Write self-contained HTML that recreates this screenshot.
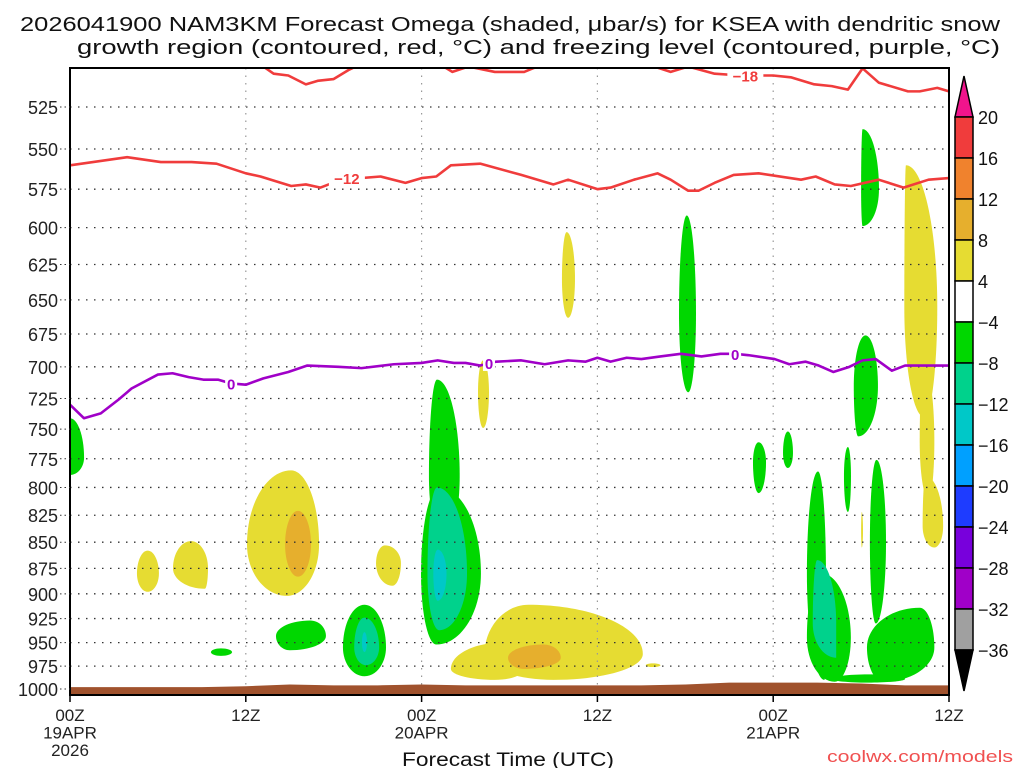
<!DOCTYPE html>
<html><head><meta charset="utf-8"><style>
html,body{margin:0;padding:0;background:#fff;}
svg{display:block;font-family:"Liberation Sans",sans-serif;}
</style></head><body>
<svg id="chart" width="1024" height="768" viewBox="0 0 1024 768" xmlns="http://www.w3.org/2000/svg">
<g font-size="20" fill="#111">
<text x="20" y="31" textLength="980" lengthAdjust="spacingAndGlyphs">2026041900 NAM3KM Forecast Omega (shaded, μbar/s) for KSEA with dendritic snow</text>
<text x="77" y="54" textLength="923" lengthAdjust="spacingAndGlyphs">growth region (contoured, red, °C) and freezing level (contoured, purple, °C)</text>
</g>
<defs><clipPath id="plotclip"><rect x="70" y="68" width="879" height="627"/></clipPath></defs>
<g id="shading" clip-path="url(#plotclip)"></g>
<g id="grid"></g>
<g id="terrain" clip-path="url(#plotclip)"></g>
<g id="contours" clip-path="url(#plotclip)"></g>
<g id="labels"></g>
<rect x="70" y="68" width="879" height="627" fill="none" stroke="#000" stroke-width="2"/>
<g id="yaxis" font-size="18" fill="#222"></g>
<g id="xaxis" font-size="17" fill="#222"></g>
<text x="508" y="766" font-size="19" text-anchor="middle" fill="#111" textLength="212" lengthAdjust="spacingAndGlyphs">Forecast Time (UTC)</text>
<text x="1013" y="762" font-size="17" text-anchor="end" fill="#f05050" textLength="186" lengthAdjust="spacingAndGlyphs">coolwx.com/models</text>
<g id="cbar" font-size="18" fill="#111"></g>
</svg>
<script>
// ---- data ----
const pressureTicks = [525,550,575,600,625,650,675,700,725,750,775,800,825,850,875,900,925,950,975,1000];
const timeTickHours = [0,12,24,36,48,60];
const timeTickLabels = [["00Z","19APR","2026"],["12Z"],["00Z","20APR"],["12Z"],["00Z","21APR"],["12Z"]];
const cbarLevels = [20,16,12,8,4,-4,-8,-12,-16,-20,-24,-28,-32,-36];
const cbarColors = ["#f03c3c","#f0822d","#e6af2d","#e6dc32","#ffffff","#00d700","#00d28c","#00c8c8","#00a0ff","#1e3cff","#7800dc","#a000c8","#a0a0a0"];
const levelColor = {y4:"#e6dc32", o8:"#e6af2d", g4:"#00d700", t8:"#00d28c", c12:"#00c8c8"};
// blobs: [level, hLeft, hRight, hTop, pTop, hBot, pBot, pMid]
const blobs = [
 ["g4",-0.3,0.96,0,741,0,789,774],
 ["y4",4.57,6.07,5.3,858,5.3,898,880],
 ["y4",7.03,9.42,8.26,849,9.2,895,875],
 ["y4",12.08,17,15.09,785,14.8,902,852],
 ["o8",14.68,16.45,15.56,821,15.56,883,852],
 ["y4",20.89,22.59,21.5,853,22,892,870],
 ["g4",9.62,11.06,10.3,956,10.3,964,960],
 ["g4",14.06,17.47,16.4,927,15,958,943],
 ["g4",18.63,21.57,20.1,911,20.1,986,955],
 ["t8",19.4,21.1,20.1,924,20.2,974,955],
 ["c12",19.93,20.27,20.1,939,20.1,960,950],
 ["g4",24.5,26.6,25.05,710,25.5,850,790],
 ["g4",23.96,28.05,25.2,800,25,952,880],
 ["t8",24.4,27.1,25.05,800,25.2,937,880],
 ["c12",24.8,25.7,25.1,857,25.1,907,880],
 ["y4",27.85,28.6,28.2,695,28.2,749,720],
 ["y4",26,31,29.5,950,29,990,978],
 ["y4",28.3,39.1,31.3,911,33,990,962],
 ["o8",29.9,33.5,32.3,952,31,978,966],
 ["y4",39.3,40.3,39.8,972,39.8,976,974],
 ["y4",33.58,34.47,33.9,603,34,663,635],
 ["g4",41.57,42.73,42.1,592,42.2,720,660],
 ["g4",54,55.22,54.1,538,54.1,599,575],
 ["g4",53.5,55.15,54.3,676,53.8,756,715],
 ["y4",56.95,59.2,57.06,560,58.3,740,655],
 ["y4",58.0,59.0,58.3,700,58.6,810,760],
 ["y4",58.2,59.6,58.4,790,59,855,835],
 ["g4",46.62,47.51,47,761,47,805,778],
 ["g4",48.67,49.35,49,752,49,783,770],
 ["g4",50.3,51.6,51.06,786,51.5,990,880],
 ["g4",50.3,53.3,51.3,880,52.2,992,945],
 ["t8",50.7,52.3,51.0,867,52.3,966,930],
 ["g4",54.6,55.7,55.05,776,55,930,850],
 ["g4",54.4,59.0,58,914,55.5,992,955],
 ["g4",52,57,54.5,984,54.5,993,989],
 ["g4",52.83,53.31,53.1,765,53.1,822,790],
 ["y4",54,54.13,54.05,822,54.05,855,840]
];
// red -12 contour
const t12Hours = [0,3.9,6.2,8.3,10,12,13,15.1,16.1,17.1,18.5,21.2,22.9,24,25,26,28,30.8,33,34,36,36.9,38.5,40.1,41,42.2,42.9,44,45.3,47,49.9,50.9,52.2,53.3,55.2,56.9,58.6,60];
const t12Pres = [560,555,558,558,559,565,567,573,572,574,569,567,571,568,567,560,559,566,572,569,575,574,569,565,569,576,576,571,566,565,569,567,572,573,569,574,569,568];
// red -18 contour
const t18Hours = [11,13.2,13.9,14.9,16.1,16.9,18,19,19.5,20.5,25,25.5,26.1,27.2,29,30.1,31,31.6,32.3,35,39,39.5,41,42.2,44,45.8,48,49.2,50.8,52,53.1,54.1,55.2,57.2,58,59.2,60];
const t18Pres = [496,502,506,507,512,510,509,504,502,496,496,502,505,502,505,505,505,503,501,496,496,501,505,502,506,507,507,508,512,513,515,503,511,516,516,514,516];
// purple 0 contour
const fzHours = [0,0.95,2.1,3.3,4.2,6,7,8.1,9.1,10.1,11,12,13.2,14.9,16.2,18.3,19.9,22.1,24,25.1,26.2,27,28,29.1,30.8,32.4,34,35.2,36,36.9,38,39,40.3,41.7,43.1,44.4,45.4,46.3,48.1,49.1,50.2,51.1,52.1,53.2,54.1,55,56.1,57,60];
const fzPres = [730,741,737,726,717,706,705,708,710,710,713,714,709,704,699,700,701,698,697,695,697,697,699,696,695,698,695,696,693,696,693,694,692,690,692,690,690,691,694,698,696,699,704,700,695,694,703,699,699];
// surface (terrain) pressure every 3 h
const sfcHours = [0,3,6,9,12,15,18,21,24,27,30,33,36,39,42,45,48,51,54,57,60];
const sfcPres = [998,998,998,998,997,995,996,996,995,996,996,996,996,996,995,993,993,993,994,996,996];
const contourLabels = [["-12",18.9,568,"#f03c3c"],["-18",46.1,507,"#f03c3c"],["0",11,713,"#a000c8"],["0",28.6,697,"#a000c8"],["0",45.4,690,"#a000c8"]];

// ---- axes ----
const X0=70, X1=949, H0=0, H1=60;
function xs(h){return X0+(h-H0)/(H1-H0)*(X1-X0);}
function ys(p){return 107+903.2*Math.log(p/525);}
const NS="http://www.w3.org/2000/svg";
function mk(tag,attrs,parent){const e=document.createElementNS(NS,tag);for(const k in attrs)e.setAttribute(k,attrs[k]);parent.appendChild(e);return e;}

// shading
const gS=document.getElementById('shading');
blobs.forEach(b=>{
 const [lv,hl,hr,ht,pt,hb,pb,pm]=b;
 const xl=xs(hl),xr=xs(hr),xt=xs(ht),yt=ys(pt),xb=xs(hb),yb=ys(pb),ym=ys(pm);
 const k=0.55;
 const d=`M${xt},${yt} C${xt+k*(xr-xt)},${yt} ${xr},${ym-k*(ym-yt)} ${xr},${ym} C${xr},${ym+k*(yb-ym)} ${xb+k*(xr-xb)},${yb} ${xb},${yb} C${xb-k*(xb-xl)},${yb} ${xl},${ym+k*(yb-ym)} ${xl},${ym} C${xl},${ym-k*(ym-yt)} ${xt-k*(xt-xl)},${yt} ${xt},${yt} Z`;
 const e=mk('path',{d:d,fill:levelColor[lv]},gS);
 
 
});

// grid
const gG=document.getElementById('grid');
pressureTicks.forEach(p=>{
 const e=mk('line',{x1:X0,x2:X1,y1:ys(p),y2:ys(p),stroke:'#333','stroke-width':1.3,'stroke-dasharray':'1.5 6.5'},gG);
 
 
});
timeTickHours.slice(1,-1).forEach(h=>{
 const e=mk('line',{x1:xs(h),x2:xs(h),y1:68,y2:695,stroke:'#999','stroke-width':1.2,'stroke-dasharray':'1.5 6'},gG);
 
 
});

// terrain
const gT=document.getElementById('terrain');
let td=`M${xs(sfcHours[0])},695 `;
sfcHours.forEach((h,i)=>{td+=`L${xs(h)},${ys(sfcPres[i])} `;});
td+=`L${xs(sfcHours[sfcHours.length-1])},695 Z`;
const terr=mk('path',{d:td,fill:'#a0522d'},gT);



// contours
const gC=document.getElementById('contours');
function line(hs,ps,color,name){
 const d=hs.map((h,i)=>(i?'L':'M')+xs(h)+','+ys(ps[i])).join(' ');
 const e=mk('path',{d:d,fill:'none',stroke:color,'stroke-width':2.6,'stroke-linejoin':'round'},gC);
 
 
}
line(t12Hours,t12Pres,'#f03c3c','contour-minus12');
line(t18Hours,t18Pres,'#f03c3c','contour-minus18');
line(fzHours,fzPres,'#a000c8','freezing-level');
const gL=document.getElementById('labels');
contourLabels.forEach(c=>{
 const x=xs(c[1]),y=ys(c[2]);
 const r=mk('rect',{x:x-(c[0].length*6),y:y-8,width:c[0].length*12,height:16,fill:'#fff'},gL);
 
 
 const t=mk('text',{x:x,y:y+6,'text-anchor':'middle','font-size':15,'font-weight':'bold',fill:c[3]},gL);
 t.textContent=c[0].replace('-','\u2212');
 
 
});

// y axis
const gY=document.getElementById('yaxis');
pressureTicks.forEach(p=>{
 const t=mk('text',{x:58,y:ys(p)+7,'text-anchor':'end'},gY);
 t.textContent=p;
 
 
 const l=mk('line',{x1:60,x2:70,y1:ys(p),y2:ys(p),stroke:'#333','stroke-width':1,'stroke-dasharray':'1.5 3'},gY);
 
 
});
// x axis
const gX=document.getElementById('xaxis');
timeTickHours.forEach((h,i)=>{
 const l=mk('line',{x1:xs(h),x2:xs(h),y1:695,y2:702,stroke:'#000','stroke-width':1.5},gX);
 
 
 timeTickLabels[i].forEach((s,j)=>{
  const t=mk('text',{x:xs(h),y:721+j*17.5,'text-anchor':'middle'},gX);
  t.textContent=s;
  
  
 });
});

// colorbar
const gB=document.getElementById('cbar');
const cbTop=117, cbStep=41, cbX=955, cbW=18;
const tri1=mk('polygon',{points:`${cbX},${cbTop} ${cbX+cbW},${cbTop} ${cbX+cbW/2},76`,fill:'#f0148c',stroke:'#000','stroke-width':1.5},gB);


cbarColors.forEach((c,i)=>{
 const r=mk('rect',{x:cbX,y:cbTop+i*cbStep,width:cbW,height:cbStep,fill:c,stroke:'#000','stroke-width':1.5},gB);
 
 
});
const yEnd=cbTop+cbarColors.length*cbStep;
const tri2=mk('polygon',{points:`${cbX},${yEnd} ${cbX+cbW},${yEnd} ${cbX+cbW/2},691`,fill:'#000',stroke:'#000','stroke-width':1.5},gB);


cbarLevels.forEach((v,i)=>{
 const t=mk('text',{x:978,y:cbTop+i*cbStep+7},gB);
 t.textContent=String(v).replace('-','\u2212');
 
 
});
</script>
</body></html>
